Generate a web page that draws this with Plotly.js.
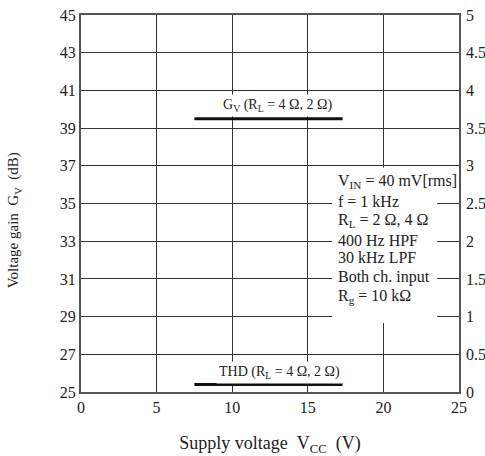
<!DOCTYPE html>
<html>
<head>
<meta charset="utf-8">
<script src="https://cdn.plot.ly/plotly-3.0.1.min.js"></script>
<style>html,body{margin:0;padding:0;background:#fff;}#chart{width:485px;height:456px;}</style>
</head>
<body>
<div id="chart"></div>
<script>
// Data
const vccGv = [7.5, 17.3];          // Supply voltage (V) span of Gv curve
const gvValues = [39.5, 39.5];      // Voltage gain (dB)
const vccThd = [7.5, 17.3];         // Supply voltage (V) span of THD curve
const thdValues = [0.1, 0.1];       // THD (%) on right axis
const gvLabel = 'G<sub>V</sub> (R<sub>L</sub> = 4 Ω, 2 Ω)';
const thdLabel = 'THD (R<sub>L</sub> = 4 Ω, 2 Ω)';
const conditionLines = [
  'V<sub>IN</sub> = 40 mV[rms]',
  'f = 1 kHz',
  'R<sub>L</sub> = 2 Ω, 4 Ω',
  '400 Hz HPF',
  '30 kHz LPF',
  'Both ch. input',
  'R<sub>g</sub> = 10 kΩ'
];
const conditionY = [36.16, 35.10, 34.12, 33.06, 32.12, 31.12, 30.06];

const FONT = 'Liberation Serif, Times New Roman, serif';
const ink = '#222';

const traces = [
  {x: vccGv, y: gvValues, type: 'scatter', mode: 'lines', yaxis: 'y',
   line: {color: '#111', width: 3}, hoverinfo: 'skip', showlegend: false},
  {x: vccThd, y: thdValues, type: 'scatter', mode: 'lines', yaxis: 'y2',
   line: {color: '#111', width: 3}, hoverinfo: 'skip', showlegend: false}
];

const annotations = [
  {x: 13.0, y: 40.2, xref: 'x', yref: 'y', text: gvLabel, showarrow: false,
   bgcolor: '#fff', borderpad: 2, font: {family: FONT, size: 14, color: ink}},
  {x: 13.15, y: 26.06, xref: 'x', yref: 'y', text: thdLabel, showarrow: false,
   bgcolor: '#fff', borderpad: 2, font: {family: FONT, size: 14, color: ink}},
  {x: -0.175, y: 0.455, xref: 'paper', yref: 'paper', text: 'Voltage gain\u2002G<sub>V</sub>\u2002(dB)',
   textangle: -90, showarrow: false, xanchor: 'center', yanchor: 'middle',
   font: {family: FONT, size: 15, color: ink}}
];
conditionLines.forEach((t, i) => {
  annotations.push({x: 16.85, y: conditionY[i], xref: 'x', yref: 'y', text: t,
    showarrow: false, xanchor: 'left', yanchor: 'middle', align: 'left',
    bgcolor: i === 0 ? '#fff' : 'rgba(0,0,0,0)',
    font: {family: FONT, size: 16, color: ink}});
});

const layout = {
  width: 485, height: 456,
  margin: {l: 81, r: 26, t: 15, b: 64},
  paper_bgcolor: '#fff', plot_bgcolor: '#fff',
  font: {family: FONT, size: 15, color: ink},
  showlegend: false,
  xaxis: {
    range: [0, 25], dtick: 5, tick0: 0, showgrid: true, gridcolor: '#333', gridwidth: 1,
    zeroline: false, showline: true, linecolor: '#555', linewidth: 2, mirror: true,
    ticks: '', tickfont: {family: FONT, size: 16, color: ink},
    title: {text: 'Supply voltage\u2002V<sub>CC</sub>\u2002(V)', font: {family: FONT, size: 18, color: ink}, standoff: 24}
  },
  yaxis: {
    range: [25, 45], dtick: 2, tick0: 25, showgrid: true, gridcolor: '#333', gridwidth: 1,
    zeroline: false, showline: true, linecolor: '#555', linewidth: 2, mirror: true,
    ticks: '', tickfont: {family: FONT, size: 16, color: ink}
  },
  yaxis2: {
    range: [0, 5], dtick: 0.5, tick0: 0, overlaying: 'y', side: 'right',
    showgrid: false, zeroline: false, showline: false, ticks: '', ticklabelstandoff: 6,
    tickfont: {family: FONT, size: 16, color: ink}
  },
  shapes: [
    {type: 'rect', xref: 'x', yref: 'y', x0: 16.6, x1: 23.55, y0: 28.66, y1: 36.9,
     fillcolor: '#fff', line: {width: 0}, layer: 'above'}
  ],
  annotations: annotations
};

Plotly.newPlot('chart', traces, layout, {displayModeBar: false, staticPlot: true});
</script>
</body>
</html>
